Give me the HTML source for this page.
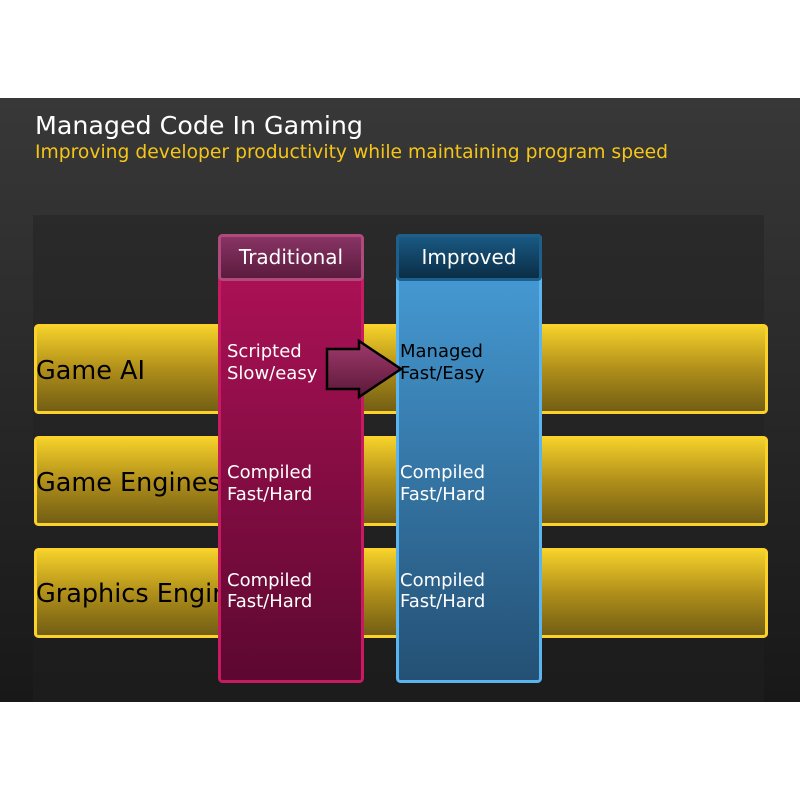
<!DOCTYPE html>
<html><head><style>
html,body{margin:0;padding:0;background:#fff;width:800px;height:800px;overflow:hidden}
svg{display:block}
text{font-family:"DejaVu Sans","Liberation Sans",sans-serif}
</style></head><body>
<svg width="800" height="800" viewBox="0 0 800 800" xmlns="http://www.w3.org/2000/svg">
<defs>
<linearGradient id="bg" x1="0" y1="0" x2="0" y2="1"><stop offset="0" stop-color="#383838"/><stop offset="1" stop-color="#181818"/></linearGradient>
<linearGradient id="yel" x1="0" y1="0" x2="0" y2="1"><stop offset="0" stop-color="#f6d22a"/><stop offset="0.5" stop-color="#b08f1a"/><stop offset="1" stop-color="#705c14"/></linearGradient>
<linearGradient id="mag" x1="0" y1="0" x2="0" y2="1"><stop offset="0" stop-color="#b31259"/><stop offset="1" stop-color="#5c0830"/></linearGradient>
<linearGradient id="magh" x1="0" y1="0" x2="0" y2="1"><stop offset="0" stop-color="#8a3566"/><stop offset="1" stop-color="#5a1a3c"/></linearGradient>
<linearGradient id="blu" x1="0" y1="0" x2="0" y2="1"><stop offset="0" stop-color="#48a0dc"/><stop offset="1" stop-color="#245074"/></linearGradient>
<linearGradient id="bluh" x1="0" y1="0" x2="0" y2="1"><stop offset="0" stop-color="#1a5a84"/><stop offset="1" stop-color="#0a2c44"/></linearGradient>
<linearGradient id="arr" x1="0" y1="0" x2="0" y2="1"><stop offset="0" stop-color="#a03a6c"/><stop offset="1" stop-color="#5a1838"/></linearGradient>
</defs>
<rect x="0" y="98" width="800" height="604" fill="url(#bg)"/>
<rect x="33" y="215" width="731" height="487" fill="#222" opacity="0.45"/>
<text x="35" y="134" font-size="25" fill="#fff" textLength="328" lengthAdjust="spacingAndGlyphs">Managed Code In Gaming</text>
<text x="35" y="158" font-size="19" fill="#f5c518" textLength="633" lengthAdjust="spacingAndGlyphs">Improving developer productivity while maintaining program speed</text>

<g stroke="#fbd22c" stroke-width="3" fill="url(#yel)">
<rect x="35.5" y="325.5" width="731" height="87" rx="3"/>
<rect x="35.5" y="437.5" width="731" height="87" rx="3"/>
<rect x="35.5" y="549.5" width="731" height="87" rx="3"/>
</g>
<g font-size="25.5" fill="#000">
<text x="36" y="379">Game AI</text>
<text x="36" y="491">Game Engines</text>
<text x="36" y="602">Graphics Engines</text>
</g>

<rect x="219.5" y="235.5" width="143" height="446" rx="3" fill="url(#mag)" stroke="#c81a60" stroke-width="3"/>
<rect x="219.5" y="235.5" width="143" height="44" rx="3" fill="url(#magh)" stroke="#b04a7c" stroke-width="3"/>
<text x="291" y="264" font-size="20" fill="#fff" text-anchor="middle">Traditional</text>

<rect x="397.5" y="235.5" width="143" height="446" rx="3" fill="url(#blu)" stroke="#5ab4ee" stroke-width="3"/>
<rect x="397.5" y="235.5" width="143" height="44" rx="3" fill="url(#bluh)" stroke="#1e5e8a" stroke-width="3"/>
<text x="469" y="264" font-size="20" fill="#fff" text-anchor="middle">Improved</text>

<g font-size="18" fill="#fff">
<text x="227" y="357">Scripted</text><text x="227" y="379">Slow/easy</text>
<text x="227" y="478">Compiled</text><text x="227" y="500">Fast/Hard</text>
<text x="227" y="586">Compiled</text><text x="227" y="607">Fast/Hard</text>
<text x="400" y="478">Compiled</text><text x="400" y="500">Fast/Hard</text>
<text x="400" y="586">Compiled</text><text x="400" y="607">Fast/Hard</text>
</g>
<polygon points="327,349 359,349 359,341 401,369 359,397 359,389 327,389" fill="url(#arr)" stroke="#000" stroke-width="2.5" stroke-linejoin="miter"/>
<g font-size="18" fill="#000">
<text x="400" y="357">Managed</text><text x="400" y="379">Fast/Easy</text>
</g>
</svg>
</body></html>
